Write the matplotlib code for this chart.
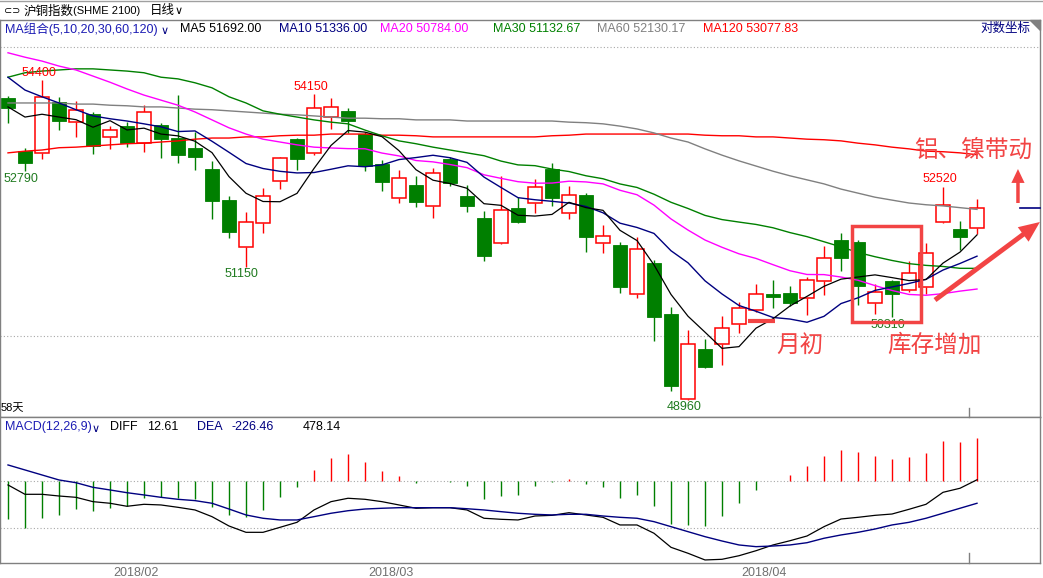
import numpy as np
import pandas as pd
import matplotlib
matplotlib.use('Agg')
import matplotlib.pyplot as plt
from matplotlib.lines import Line2D
from matplotlib.patches import Rectangle, Polygon
from matplotlib.ticker import NullLocator

plt.rcParams['font.family'] = ['Liberation Sans', 'Noto Sans CJK SC', 'DejaVu Sans']

# daily candles, 2018/01 .. 2018/04 (58 days)
opens = [54080, 53140, 53110, 54010, 53650, 53790, 53390, 53580, 53280, 53600,
         53370, 53200, 52830, 52290, 51490, 51900, 52620, 53350, 53110, 53740,
         53850, 53440, 52920, 52330, 52550, 52190, 53000, 52360, 51980, 51560,
         52160, 52240, 52830, 52070, 52380, 51560, 51520, 50700, 51220, 50370,
         48970, 49790, 49870, 50200, 50430, 50700, 50710, 50630, 50920, 51610,
         51570, 50550, 50920, 50760, 50810, 51910, 51800, 51810]
highs = [54110, 53200, 54400, 54100, 54020, 53830, 53580, 53650, 53950, 53640,
         54130, 53480, 52970, 52360, 52090, 52500, 53040, 53370, 54150, 54080,
         53900, 53480, 52990, 52810, 52710, 52850, 53040, 52550, 52100, 52710,
         52340, 52650, 52930, 52530, 52410, 51860, 51570, 51660, 51270, 50480,
         50100, 49950, 50330, 50560, 50870, 50930, 50830, 50980, 51510, 51730,
         51600, 50870, 50930, 51250, 51560, 52520, 51930, 52310]
lows = [53640, 52790, 53000, 53510, 53390, 53090, 53180, 53210, 53130, 53020,
        52930, 52810, 51970, 51640, 51150, 51730, 52480, 52810, 53070, 53530,
        53460, 52790, 52450, 52240, 52170, 51980, 52530, 52090, 51250, 51540,
        51900, 52070, 52190, 51970, 51400, 51390, 50710, 50630, 49920, 49100,
        48960, 49480, 49530, 50050, 50400, 50460, 50500, 50350, 50680, 51080,
        50510, 50370, 50310, 50730, 50700, 51900, 51440, 51710]
closes = [53900, 52930, 54100, 53670, 53870, 53230, 53510, 53280, 53830, 53350,
          53070, 53040, 52280, 51740, 51910, 52360, 53020, 53000, 53900, 53920,
          53670, 52880, 52600, 52670, 52260, 52760, 52590, 52190, 51340, 52120,
          51910, 52520, 52330, 52380, 51660, 51680, 50810, 51460, 50320, 49180,
          49870, 49490, 50130, 50460, 50700, 50650, 50550, 50930, 51300, 51300,
          50830, 50730, 50700, 51050, 51390, 52210, 51660, 52160]

# moving-average values before the window is full
ma5_head = [53920, 53740, 53790, 53740]
ma10_head = [54450, 54220, 54100, 53990, 53870, 53760, 53710, 53670, 53620]
ma20_head = [54890, 54810, 54740, 54650, 54580, 54470, 54360, 54240, 54130, 54040,
             53950, 53830, 53690, 53550, 53440, 53350, 53300, 53250, 53210]
ma30_head = [54450, 54530, 54560, 54580, 54600, 54600, 54580, 54560, 54530, 54450,
             54420, 54350, 54260, 54100, 53990, 53850, 53790, 53740, 53690, 53650,
             53620, 53510, 53410, 53320, 53270, 53210, 53160, 53110, 53060]
ma60 = [53990, 53990, 53990, 53990, 53970, 53970, 53950, 53940, 53920, 53920,
        53900, 53880, 53870, 53850, 53830, 53810, 53790, 53780, 53760, 53740,
        53720, 53720, 53710, 53710, 53690, 53690, 53690, 53670, 53670, 53670,
        53670, 53670, 53670, 53650, 53640, 53620, 53580, 53530, 53460, 53370,
        53300, 53180, 53070, 52970, 52880, 52790, 52710, 52640, 52570, 52480,
        52410, 52340, 52290, 52240, 52210, 52190, 52160, 52130]
ma120 = [53110, 53140, 53160, 53200, 53210, 53230, 53250, 53270, 53280, 53300,
         53320, 53350, 53370, 53370, 53390, 53390, 53410, 53420, 53420, 53440,
         53440, 53440, 53420, 53420, 53410, 53390, 53390, 53390, 53390, 53390,
         53390, 53390, 53410, 53420, 53440, 53440, 53440, 53440, 53440, 53440,
         53440, 53420, 53410, 53410, 53390, 53390, 53370, 53350, 53340, 53320,
         53280, 53250, 53210, 53180, 53140, 53130, 53110, 53078]

# MACD(12,26,9)
diff = [-42, -141, -141, -159, -173, -219, -236, -268, -247, -254,
        -279, -307, -378, -477, -544, -544, -491, -438, -307, -219,
        -183, -194, -219, -254, -289, -283, -283, -307, -395, -406,
        -413, -371, -364, -336, -360, -385, -466, -466, -554, -703,
        -766, -837, -830, -792, -739, -678, -633, -583, -484, -403,
        -385, -364, -350, -300, -247, -120, -77, 13]
dea = [170, 117, 64, 11, -18, -67, -95, -124, -148, -173,
       -194, -208, -236, -297, -360, -395, -413, -413, -378, -342,
       -315, -297, -289, -283, -283, -283, -283, -294, -307, -325,
       -342, -353, -360, -353, -353, -371, -385, -395, -431, -484,
       -537, -590, -636, -678, -696, -689, -678, -654, -607, -572,
       -544, -509, -466, -438, -395, -342, -289, -236]
macd_bar = [-400, -495, -389, -357, -294, -315, -283, -265, -177, -173,
            -177, -188, -272, -364, -385, -307, -166, -60, 117, 244,
            289, 201, 106, 53, -18, -3, -11, -53, -188, -156,
            -148, -53, -11, 21, -32, -64, -180, -148, -265, -459,
            -466, -477, -371, -233, -95, 4, 64, 159, 265, 329,
            307, 265, 233, 254, 297, 424, 413, 452]

month_pos = [7.5, 22.5, 44.5]
month_labels = ['2018/02', '2018/03', '2018/04']

peaks = [(2, 54400, 'hi'), (1, 52790, 'lo'), (18, 54150, 'hi'), (14, 51150, 'lo'),
         (40, 48960, 'lo'), (52, 50310, 'lo'), (55, 52520, 'hi')]

RED = '#ff0000'
GREEN = '#007f00'
NAVY = '#000080'
MAG = '#ff00ff'
GRAY = '#808080'
ANN = '#f24444'

W, H = 1043, 578


def fx(px):
    return px / W


def fy(py):
    return 1 - py / H


def ma(n, head):
    s = pd.Series(closes).rolling(n).mean().to_numpy()
    s[:n - 1] = head
    return s


x = np.arange(len(closes))
o = np.array(opens, float)
h = np.array(highs, float)
l = np.array(lows, float)
c = np.array(closes, float)
up = c >= o
dn = ~up

fig = plt.figure(figsize=(W / 100, H / 100), dpi=100)
ax = fig.add_axes([0, fy(417), fx(1040), (417 - 20) / H])
ax2 = fig.add_axes([0, fy(563), fx(1040), (563 - 417) / H])

xl = (-8 / 17, (1040 - 8) / 17)

# ---- price panel ----
ax.set_yscale('log')
ax.set_xlim(*xl)
ax.set_ylim(54400 * np.exp(-337 / 3036), 54400 * np.exp(60 / 3036))
for lvl in (50000, 55000):
    ax.axhline(lvl, color='#a8a8a8', lw=0.8, ls=(0, (1, 2)), zorder=1)

wd = 0.85
ax.vlines(x[dn], l[dn], h[dn], color=GREEN, lw=1.0, zorder=2)
ax.bar(x[dn], o[dn] - c[dn], bottom=c[dn], width=wd, color=GREEN,
       edgecolor=GREEN, lw=0.6, zorder=2)
ax.vlines(x[up], c[up], h[up], color=RED, lw=1.0, zorder=2)
ax.vlines(x[up], l[up], o[up], color=RED, lw=1.0, zorder=2)
ax.bar(x[up], c[up] - o[up], bottom=o[up], width=wd, facecolor='white',
       edgecolor=RED, lw=1.1, zorder=2)

ax.plot(x, ma120, color=RED, lw=1.0, zorder=3)
ax.plot(x, ma60, color=GRAY, lw=1.0, zorder=3)
ax.plot(x, ma(30, ma30_head), color='#008000', lw=1.0, zorder=3)
ax.plot(x, ma(20, ma20_head), color=MAG, lw=1.0, zorder=3)
ax.plot(x, ma(10, ma10_head), color=NAVY, lw=1.0, zorder=3)
ax.plot(x, ma(5, ma5_head), color='black', lw=0.9, zorder=3)

for i, v, kind in peaks:
    if kind == 'hi':
        ax.annotate(str(v), (i, v), xytext=(-2, 1), textcoords='offset points',
                    ha='center', va='bottom', color=RED, fontsize=9)
    else:
        ax.annotate(str(v), (i, v), xytext=(-3, -1), textcoords='offset points',
                    ha='center', va='top', color='#1f7a1f', fontsize=9)

# last price marker on the right edge
ax.plot([59.5, xl[1]], [closes[-1]] * 2, color=NAVY, lw=1.2, zorder=3,
        clip_on=False)

# hand-drawn annotations
ax.add_patch(Rectangle((49.62, 50240), 53.68 - 49.62, 51854 - 50240, fill=False,
                       edgecolor=ANN, lw=2.5, zorder=5))
ax.plot([43.53, 45.12], [50250, 50250], color=ANN, lw=3, solid_capstyle='butt',
        zorder=5)
ax.annotate('', xy=(60.7, 51914), xytext=(54.53, 50597),
            arrowprops=dict(arrowstyle='simple,head_length=1.5,head_width=1.3,tail_width=0.35',
                            color=ANN, lw=0, shrinkA=0, shrinkB=0, mutation_scale=10),
            annotation_clip=False, zorder=5)
ax.annotate('', xy=(59.41, 52828), xytext=(59.41, 52240),
            arrowprops=dict(arrowstyle='simple,head_length=1.0,head_width=0.95,tail_width=0.25',
                            color=ANN, lw=0, shrinkA=0, shrinkB=0, mutation_scale=10),
            annotation_clip=False, zorder=5)
ax.text(56.8, 53160, '铝、镍带动', color=ANN, fontsize=17, ha='center', va='center',
        family=['Noto Sans CJK SC', 'DejaVu Sans'], zorder=6)
ax.text(46.6, 49853, '月初', color=ANN, fontsize=17, ha='center', va='center',
        family=['Noto Sans CJK SC', 'DejaVu Sans'], zorder=6)
ax.text(54.5, 49853, '库存增加', color=ANN, fontsize=17, ha='center', va='center',
        family=['Noto Sans CJK SC', 'DejaVu Sans'], zorder=6)

ax.set_xticks([])
ax.set_yticks([])
ax.yaxis.set_minor_locator(NullLocator())
for s in ax.spines.values():
    s.set_color(GRAY)
    s.set_linewidth(1.0)
ax.text(0.001, (417 - 408) / 397, '58天', transform=ax.transAxes, fontsize=8,
        ha='left', va='center')

# ---- MACD panel ----
ax2.set_xlim(*xl)
ax2.set_ylim(-(563 - 481) * 10.6, (481 - 417) * 10.6)
for lvl in (0, -500):
    ax2.axhline(lvl, color='#a8a8a8', lw=0.8, ls=(0, (1, 2)), zorder=1)
bars = np.array(macd_bar, float)
ax2.vlines(x, 0, bars, colors=[RED if v > 0 else GREEN for v in bars], lw=1.0,
           zorder=2)
ax2.plot(x, diff, color='black', lw=0.9, zorder=3)
ax2.plot(x, dea, color=NAVY, lw=1.0, zorder=3)
ax2.set_yticks([])
ax2.set_xticks(month_pos)
ax2.set_xticklabels(month_labels, color='#707070', fontsize=9)
ax2.tick_params(axis='x', length=0, pad=3)
for s in ax2.spines.values():
    s.set_color(GRAY)
    s.set_linewidth(1.0)

# cursor ticks
for y0, y1 in ((408, 417), (553, 563)):
    fig.add_artist(Line2D([fx(969), fx(969)], [fy(y0), fy(y1)], color=GRAY, lw=1.0))

# ---- header texts ----
fig.add_artist(Line2D([0, 1], [fy(0.5), fy(0.5)], color='#a0a0a0', lw=1.0))
fig.text(fx(4), fy(11), '⊂⊃', fontsize=7, va='center', family=['DejaVu Sans'])
fig.text(fx(24), fy(11), '沪铜指数', fontsize=9, va='center')
fig.text(fx(73), fy(11), '(SHME 2100)', fontsize=8, va='center')
fig.text(fx(150), fy(11), '日线', fontsize=9, va='center')
fig.text(fx(175), fy(11), '∨', fontsize=8, va='center', family=['DejaVu Sans'])

row = [(5, 'MA组合(5,10,20,30,60,120)', '#1c1cb4'), (180, 'MA5 51692.00', 'black'),
       (279, 'MA10 51336.00', NAVY), (380, 'MA20 50784.00', MAG),
       (493, 'MA30 51132.67', '#008000'), (597, 'MA60 52130.17', GRAY),
       (703, 'MA120 53077.83', RED), (980, '对数坐标', NAVY)]
for px, t, col in row:
    fig.text(fx(px), fy(29), t, fontsize=9, color=col, va='center')
fig.text(fx(161), fy(31), '∨', fontsize=8, color=NAVY, va='center',
         family=['DejaVu Sans'])
fig.add_artist(Polygon([[fx(1030), fy(20)], [fx(1040), fy(20)], [fx(1040), fy(30)]],
                       closed=True, color=GRAY, transform=fig.transFigure))

macd_row = [(5, 'MACD(12,26,9)', '#1c1cb4'), (110, 'DIFF', 'black'),
            (147, '12.61', 'black'), (197, 'DEA', NAVY), (231, '-226.46', NAVY),
            (303, '478.14', 'black')]
for px, t, col in macd_row:
    fig.text(fx(px), fy(427), t, fontsize=9, color=col, va='center')
fig.text(fx(92), fy(429), '∨', fontsize=8, color=NAVY, va='center',
         family=['DejaVu Sans'])

fig.savefig('out.png', dpi=100)
